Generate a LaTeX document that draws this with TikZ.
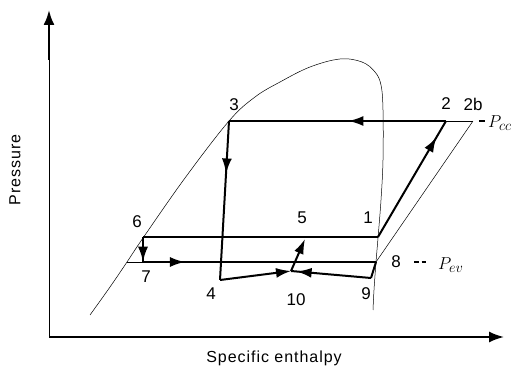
\documentclass[tikz,border=0pt]{standalone}
\usepackage{fontspec}
\setmainfont{Liberation Sans}
\usetikzlibrary{arrows.meta,decorations.markings}

\tikzset{
  trait/.style={line width=2pt},
  fin/.style={line width=0.5pt},
  fleche/.style={postaction={decorate},
    decoration={markings,mark=at position #1 with {\arrow{Latex[length=15pt,width=10pt]}}}},
  bout/.style={-{Latex[length=15pt,width=10pt]}},
  etiq/.style={font=\fontsize{17}{19}\selectfont, inner sep=0pt},
  axe/.style={font=\fontsize{16}{18}\selectfont\addfontfeature{LetterSpace=6}, inner sep=0pt},
  pres/.style={anchor=west, inner sep=0pt, font=\fontsize{19}{21}\selectfont},
}

\begin{document}
\begin{tikzpicture}[x=1pt,y=-1pt]
\useasboundingbox (0,0) rectangle (514,371);

% Axes
\coordinate (O) at (49,337);
\coordinate (ytop) at (49,10);
\coordinate (ymid) at (49,60);
\coordinate (xend) at (504,337);
\draw[line width=0.8pt] (O) -- (ymid);
\draw[line width=2.2pt, -{Latex[length=15pt,width=11pt]}] (ymid) -- (ytop);
\draw[line width=1.8pt, -{Latex[length=15pt,width=11pt]}] (O) -- (xend);
\node[axe, rotate=90] (pression) at (15,170) {Pressure};
\node[axe] (enthalpie) at (274,358) {Specific enthalpy};

% Courbe de saturation
\draw[fin] plot[smooth, tension=0.6] coordinates {(90,315) (110,287) (127,262) (143,238)
  (185,178) (229,121) (255,97) (280,82) (310,67) (340,59) (362,62) (375,72) (381,85)
  (383,110) (383,160) (381,200) (378,238) (376,262) (374,290) (373,310)};

% Points du cycle
\coordinate (p1) at (378,237);
\coordinate (p2) at (446,121);
\coordinate (p2b) at (473,121);
\coordinate (p3) at (229,121);
\coordinate (p4) at (220,280);
\coordinate (p5) at (305,239);
\coordinate (p6) at (143,237);
\coordinate (p7) at (143,262);
\coordinate (p7g) at (127,262);
\coordinate (p8) at (376,262);
\coordinate (p9) at (371,278);
\coordinate (p10) at (291,271);

% Isobares et isentropique
\draw[fin] (p2) -- (p2b);
\draw[fin] (p2b) -- (p8);
\draw[fin] (p7g) -- (p7);

% Cycle
\draw[trait, fleche=0.45] (p2) -- (p3);
\draw[trait, fleche=0.33] (p3) -- (p4);
\draw[trait, fleche=0.86] (p1) -- (p2);
\draw[trait] (p6) -- (p1);
\draw[trait, fleche=0.99] (p6) -- (p7);
\draw[trait, fleche=0.18] (p7) -- (p8);
\draw[trait] (p8) -- (p9);
\draw[trait, bout] (p4) -- (p10);
\draw[trait, fleche=0.93] (p9) -- (p10);
\draw[trait, bout] (p10) -- (p5);

% Labels
\node[etiq] (l3) at (234,105) {3};
\node[etiq] (l2) at (446,104) {2};
\node[etiq] (l2b) at (473,104) {2b};
\node[etiq] (l6) at (137,222) {6};
\node[etiq] (l7) at (146,277) {7};
\node[etiq] (l5) at (302,218) {5};
\node[etiq] (l1) at (368,218) {1};
\node[etiq] (l8) at (396,262) {8};
\node[etiq] (l4) at (211,294) {4};
\node[etiq] (l10) at (296,300) {10};
\node[etiq] (l9) at (366,294) {9};
\node[pres] (pcc) at (488,123) {$P_{cc}$};
\node[pres] (pev) at (438,265) {$P_{ev}$};
\coordinate (dcc1) at (479,121);
\coordinate (dcc2) at (485,121);
\coordinate (dev1) at (414,262);
\coordinate (dev2) at (426,262);
\draw[line width=1.4pt] (dcc1) -- (dcc2);
\draw[line width=1.4pt, dash pattern=on 4.5pt off 3pt] (dev1) -- (dev2);
\end{tikzpicture}
\end{document}
